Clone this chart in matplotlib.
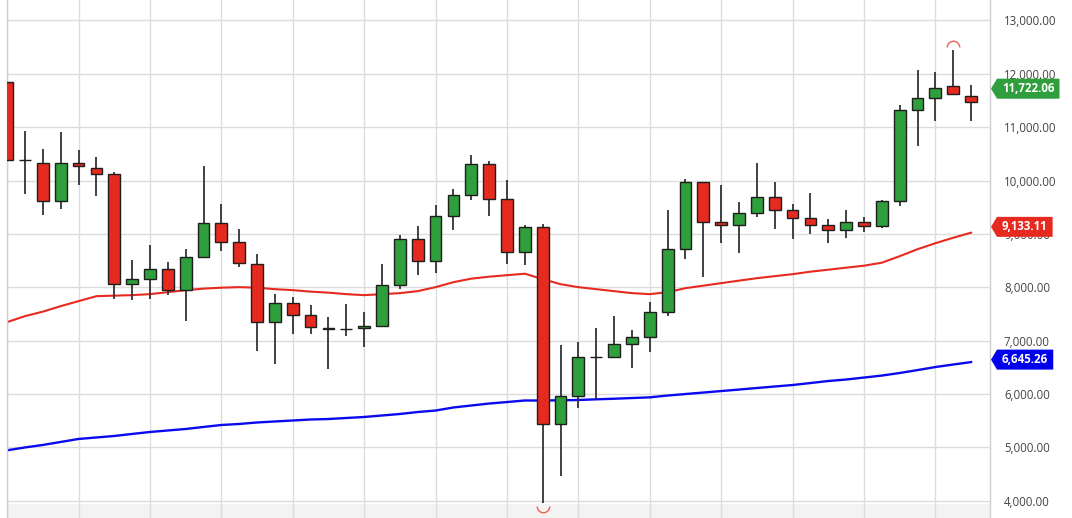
import matplotlib
matplotlib.use("Agg")
import matplotlib.pyplot as plt
import matplotlib.transforms as mtransforms
import numpy as np
from matplotlib.patches import Polygon
from matplotlib.path import Path

plt.rcParams["font.family"] = ["Open Sans", "DejaVu Sans"]

# ---------------------------------------------------------------------------
# data (one candle per period)
# ---------------------------------------------------------------------------
opens = [11845, 10393, 10337, 9625, 10330, 10243, 10131, 8059, 8165, 8334,
         7947, 8570, 9201, 8851, 8446, 7348, 7709, 7484, 7241, 7220,
         7230, 7273, 8040, 8896, 8495, 9337, 9725, 10318, 9655, 8664,
         9126, 5433, 5963, 6693, 6698, 6930, 7061, 7529, 8727, 9981,
         9219, 9169, 9401, 9700, 9444, 9300, 9176, 9083, 9219, 9145,
         9612, 11321, 11540, 11765, 11591]
highs = [11845, 10922, 10586, 10910, 10580, 10436, 10155, 8508, 8789, 8465,
         8727, 10267, 9556, 9101, 8633, 7866, 7816, 7666, 7436, 7685,
         7529, 8439, 8982, 9157, 9538, 9843, 10473, 10367, 10005, 9163,
         9195, 6923, 6973, 7241, 7460, 7198, 7716, 9444, 10030, 9981,
         9925, 9600, 10337, 9974, 9569, 9762, 9276, 9450, 9326, 9637,
         11415, 12064, 12032, 12439, 11797]
lows = [10393, 9757, 9350, 9463, 9912, 9719, 7784, 7760, 7784, 7847,
        7361, 8570, 8682, 8383, 6811, 6562, 7123, 7123, 6462, 7091,
        6874, 7273, 7965, 8227, 8259, 9083, 9644, 9332, 8446, 8427,
        3954, 4471, 5733, 5901, 6698, 6492, 6781, 7460, 8533, 8196,
        8821, 8645, 9326, 9088, 8907, 9008, 8839, 8933, 9032, 9113,
        9525, 10642, 11123, 11596, 11110]
closes = [10393, 10380, 9625, 10337, 10268, 10131, 8059, 8165, 8334, 7947,
          8564, 9201, 8851, 8452, 7348, 7709, 7484, 7248, 7211, 7215,
          7279, 8040, 8896, 8495, 9337, 9725, 10318, 9655, 8664, 9126,
          5433, 5963, 6687, 6690, 6930, 7061, 7529, 8727, 9981, 9225,
          9169, 9401, 9700, 9450, 9300, 9176, 9083, 9219, 9145, 9612,
          11321, 11540, 11733, 11628, 11478]

# moving averages
ma_fast = [7348, 7460, 7544, 7647, 7741, 7834, 7844, 7853, 7872, 7909,
           7947, 7975, 7993, 8003, 7993, 7965, 7947, 7919, 7900, 7872,
           7853, 7872, 7891, 7928, 8003, 8096, 8162, 8199, 8227, 8255,
           8153, 8059, 8003, 7965, 7928, 7891, 7872, 7909, 7984, 8031,
           8078, 8125, 8171, 8209, 8246, 8293, 8330, 8368, 8405, 8461,
           8583, 8714, 8826, 8929, 9023]
ma_slow = [4946, 4999, 5046, 5102, 5158, 5186, 5214, 5252, 5289, 5317,
           5345, 5383, 5420, 5439, 5467, 5486, 5504, 5523, 5532, 5551,
           5570, 5598, 5626, 5663, 5691, 5748, 5785, 5822, 5850, 5879,
           5879, 5883, 5888, 5901, 5912, 5925, 5938, 5972, 6000, 6028,
           6056, 6084, 6113, 6141, 6169, 6206, 6244, 6272, 6309, 6346,
           6394, 6449, 6506, 6553, 6599]

price_ticks = list(range(4000, 13001, 1000))
tag_values = [11722.06, 9133.11, 6645.26]

UP = "#2f9e3c"
DOWN = "#e62a1f"
MA_FAST = "#e8291f"
MA_SLOW = "#0a0af0"
TAG_COLORS = [UP, DOWN, "#0000ee"]
GRID = "#dcdcdc"

# ---------------------------------------------------------------------------
fig = plt.figure(figsize=(10.72, 5.18), dpi=100)
ax = fig.add_axes([7.15 / 1072, 0, (990 - 7.15) / 1072, 1])

x = np.arange(len(opens))
o = np.array(opens, float)
h = np.array(highs, float)
l = np.array(lows, float)
c = np.array(closes, float)

ax.plot(x, ma_fast, color=MA_FAST, lw=1.5, zorder=2)
ax.plot(x, ma_slow, color=MA_SLOW, lw=1.7, zorder=2)

ax.vlines(x, l, h, color="#333333", lw=1.3, zorder=2.5)
colors = [UP if cc >= oo else DOWN for oo, cc in zip(o, c)]
bottoms = np.minimum(o, c)
heights = np.maximum(np.abs(c - o), 1.0)
ax.bar(x, heights, bottom=bottoms, width=0.66, color=colors,
       edgecolor="#1e1e1e", linewidth=1.0, zorder=3)

# extreme markers (half circles above the highest high / below lowest low)
hi = int(np.argmax(h))
lo = int(np.argmin(l))
ax.plot([x[hi]], [h[hi]], ls="none", marker=Path.arc(0, 180), markersize=9,
        mfc="none", mec="#f0604f", mew=1.0, clip_on=False, zorder=6,
        transform=mtransforms.offset_copy(ax.transData, fig=fig, y=2.2, units="points"))
ax.plot([x[lo]], [l[lo]], ls="none", marker=Path.arc(180, 360), markersize=9,
        mfc="none", mec="#f0604f", mew=1.0, clip_on=False, zorder=6,
        transform=mtransforms.offset_copy(ax.transData, fig=fig, y=-2.2, units="points"))

# axes styling
ax.set_xlim(0, 55.06)
ax.set_ylim(3677, 13384)
ax.axhspan(3677, 3945, color="#f3f3f3", lw=0, zorder=0.2)
ax.set_xticks(np.arange(0, len(opens), 4))
ax.set_xticklabels([])
ax.set_yticks(price_ticks)
ax.set_yticklabels([f"{v:,.2f}" for v in price_ticks])
ax.yaxis.tick_right()
ax.tick_params(axis="y", length=0, pad=10, labelsize=8.3, labelcolor="#444444")
ax.tick_params(axis="x", length=0)
ax.grid(True, color=GRID, lw=1.0)
ax.set_axisbelow(True)
for side in ("top", "bottom"):
    ax.spines[side].set_visible(False)
for side in ("left", "right"):
    ax.spines[side].set_color("#cfcfcf")
    ax.spines[side].set_linewidth(1.0)

# price tags on the right axis
renderer = fig.canvas.get_renderer()
for value, color in zip(tag_values, TAG_COLORS):
    anchor = mtransforms.ScaledTranslation(1.0, value, ax.get_yaxis_transform())
    trans = fig.dpi_scale_trans + anchor
    txt = fig.text(0.12, 0, f"{value:,.2f}", transform=trans, ha="left",
                   va="center", color="white", fontsize=8.3,
                   fontweight="bold", zorder=6)
    w = txt.get_window_extent(renderer).width / fig.dpi
    half = 0.10
    right = 0.12 + w + 0.05
    tag = Polygon([(0.01, 0), (0.07, half), (right, half), (right, -half),
                   (0.07, -half)], closed=True, transform=trans,
                  facecolor=color, edgecolor="none", zorder=5)
    fig.add_artist(tag)

fig.savefig("out.png", dpi=100)
